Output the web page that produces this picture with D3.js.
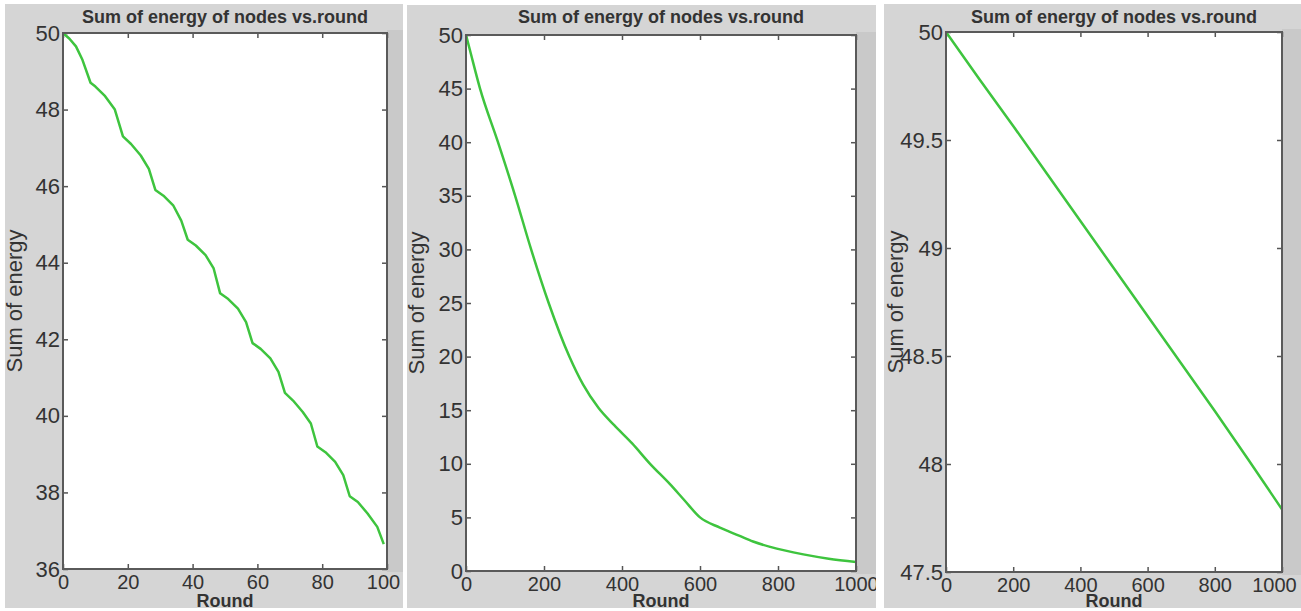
<!DOCTYPE html>
<html>
<head>
<meta charset="utf-8">
<script src="https://cdn.jsdelivr.net/npm/d3@7"></script>
<style>
  body { margin: 0; background: #fff; }
  svg { display: block; font-family: "Liberation Sans", Arial, sans-serif; }
</style>
</head>
<body>
<svg id="chart" width="1301" height="611"></svg>
<script>
// panel 1 : 100 rounds
var rounds1 = [0, 2, 4, 6, 8.5, 10, 13, 16, 18.5, 21, 24, 26.5, 28.5, 31, 34, 36.5, 38.5, 41, 44, 46.5, 48.5,
	51, 54, 56.5, 58.5, 61, 64, 66.5, 68.5, 71, 74, 76.5, 78.5, 81, 84, 86.5, 88.5, 91, 94, 97, 99];
var energy1 = [50, 49.85, 49.65, 49.3, 48.7, 48.6, 48.35, 48.0, 47.3, 47.1, 46.8, 46.45, 45.9, 45.75, 45.5, 45.1, 44.6,
	44.45, 44.2, 43.85, 43.2, 43.05, 42.8, 42.45, 41.9, 41.75, 41.5, 41.15, 40.6, 40.4, 40.1, 39.8, 39.2,
	39.05, 38.8, 38.45, 37.9, 37.75, 37.45, 37.1, 36.65];
var xTicks1 = [0, 20, 40, 60, 80, 100];
var yTicks1 = [36, 38, 40, 42, 44, 46, 48, 50];

// panel 2 : 1000 rounds
var rounds2 = [0, 10, 36, 82, 126, 167, 212, 265, 300, 340, 380, 426, 472, 523, 560, 600, 651, 700, 736, 780, 865, 930, 1000];
var energy2 = [50, 48.6, 45, 40, 35, 30, 25, 20, 17.4, 15.2, 13.6, 11.9, 10, 8.1, 6.6, 5.0, 4.05, 3.3, 2.75, 2.25, 1.55, 1.15, 0.85];
var xTicks2 = [0, 200, 400, 600, 800, 1000];
var yTicks2 = [0, 5, 10, 15, 20, 25, 30, 35, 40, 45, 50];

// panel 3 : 1000 rounds
var rounds3 = [0, 100, 200, 300, 400, 500, 600, 700, 800, 900, 1000];
var energy3 = [50, 49.78, 49.565, 49.345, 49.125, 48.905, 48.685, 48.465, 48.245, 48.02, 47.79];
var xTicks3 = [0, 200, 400, 600, 800, 1000];
var yTicks3 = [47.5, 48, 48.5, 49, 49.5, 50];

var titleText = "Sum of energy of nodes vs.round";
var xLabel = "Round";
var yLabel = "Sum of energy";

var panels = [
	{ box: [5, 4, 403, 608], plot: [63, 33, 387, 569], lab: 22, lastShift: -4, curve: d3.curveLinear,
	  rounds: rounds1, energy: energy1, xTicks: xTicks1, yTicks: yTicks1 },
	{ box: [407, 5, 876, 608], plot: [466, 35, 856, 571], lab: 424, lastShift: 0, curve: d3.curveMonotoneX,
	  rounds: rounds2, energy: energy2, xTicks: xTicks2, yTicks: yTicks2 },
	{ box: [884, 4, 1301, 608], plot: [946, 32, 1282, 572], lab: 903, lastShift: -8, curve: d3.curveLinear,
	  rounds: rounds3, energy: energy3, xTicks: xTicks3, yTicks: yTicks3 }
];

var svg = d3.select("#chart");

panels.forEach(function(p, i) {
	var b = p.box, pl = p.plot;

	svg.append("clipPath").attr("id", "clip" + i)
		.append("rect").attr("x", b[0]).attr("y", b[1]).attr("width", b[2] - b[0]).attr("height", b[3] - b[1]);

	var g = svg.append("g").attr("clip-path", "url(#clip" + i + ")");

	// figure background
	g.append("rect").attr("x", b[0]).attr("y", b[1]).attr("width", b[2] - b[0]).attr("height", b[3] - b[1])
		.attr("fill", "#d5d5d5");
	g.append("rect").attr("x", pl[2]).attr("y", pl[1] - 3).attr("width", b[2] - pl[2]).attr("height", pl[3] - pl[1] + 6)
		.attr("fill", "#c9c9c9");
	g.append("rect").attr("x", pl[0]).attr("y", pl[1]).attr("width", pl[2] - pl[0]).attr("height", pl[3] - pl[1])
		.attr("fill", "#fff");

	var x = d3.scaleLinear().domain([p.xTicks[0], p.xTicks[p.xTicks.length - 1]]).range([pl[0], pl[2]]);
	var y = d3.scaleLinear().domain([p.yTicks[0], p.yTicks[p.yTicks.length - 1]]).range([pl[3], pl[1]]);
	var fmt = function(d) { return String(d); };

	// axes, MATLAB style ticks pointing in
	var left = g.append("g").attr("transform", "translate(" + pl[0] + ",0)")
		.call(d3.axisLeft(y).tickValues(p.yTicks).tickFormat(fmt).tickSizeInner(-5).tickSizeOuter(0).tickPadding(3));
	var right = g.append("g").attr("transform", "translate(" + pl[2] + ",0)")
		.call(d3.axisRight(y).tickValues(p.yTicks).tickFormat("").tickSizeInner(-5).tickSizeOuter(0));
	var top = g.append("g").attr("transform", "translate(0," + pl[1] + ")")
		.call(d3.axisTop(x).tickValues(p.xTicks).tickFormat("").tickSizeInner(-5).tickSizeOuter(0));
	var bottom = g.append("g").attr("transform", "translate(0," + pl[3] + ")")
		.call(d3.axisBottom(x).tickValues(p.xTicks).tickFormat(fmt).tickSizeInner(-5).tickSizeOuter(0).tickPadding(6));

	[left, right, top, bottom].forEach(function(a) {
		a.select(".domain").remove();
		a.selectAll(".tick line").attr("stroke", "#555").attr("stroke-width", 1.5);
		a.selectAll(".tick text").attr("fill", "#333").attr("font-family", "Liberation Sans, Arial, sans-serif");
	});
	left.selectAll(".tick text").attr("font-size", 22);
	bottom.selectAll(".tick text").attr("font-size", 20);
	// last x label sits a little inside the figure edge
	bottom.selectAll(".tick text").filter(function(d) { return d === p.xTicks[p.xTicks.length - 1]; })
		.attr("x", p.lastShift);

	// the curve
	var pts = p.rounds.map(function(r, k) { return [r, p.energy[k]]; });
	g.append("path").datum(pts)
		.attr("fill", "none").attr("stroke", "#3ec43e").attr("stroke-width", 2.5)
		.attr("stroke-linejoin", "round")
		.attr("d", d3.line().curve(p.curve).x(function(d) { return x(d[0]); }).y(function(d) { return y(d[1]); }));

	// frame
	g.append("rect").attr("x", pl[0]).attr("y", pl[1]).attr("width", pl[2] - pl[0]).attr("height", pl[3] - pl[1])
		.attr("fill", "none").attr("stroke", "#5a5a5a").attr("stroke-width", 2);

	// texts
	g.append("text").attr("x", (pl[0] + pl[2]) / 2).attr("y", 23).attr("text-anchor", "middle")
		.attr("font-size", 18).attr("font-weight", "bold").attr("fill", "#333").text(titleText);
	g.append("text").attr("x", (pl[0] + pl[2]) / 2).attr("y", 607).attr("text-anchor", "middle")
		.attr("font-size", 18).attr("font-weight", "bold").attr("fill", "#333").text(xLabel);
	g.append("text").attr("transform", "translate(" + p.lab + "," + (pl[1] + pl[3]) / 2 + ") rotate(-90)")
		.attr("text-anchor", "middle").attr("font-size", 22).attr("fill", "#333").text(yLabel);
});
</script>
</body>
</html>
